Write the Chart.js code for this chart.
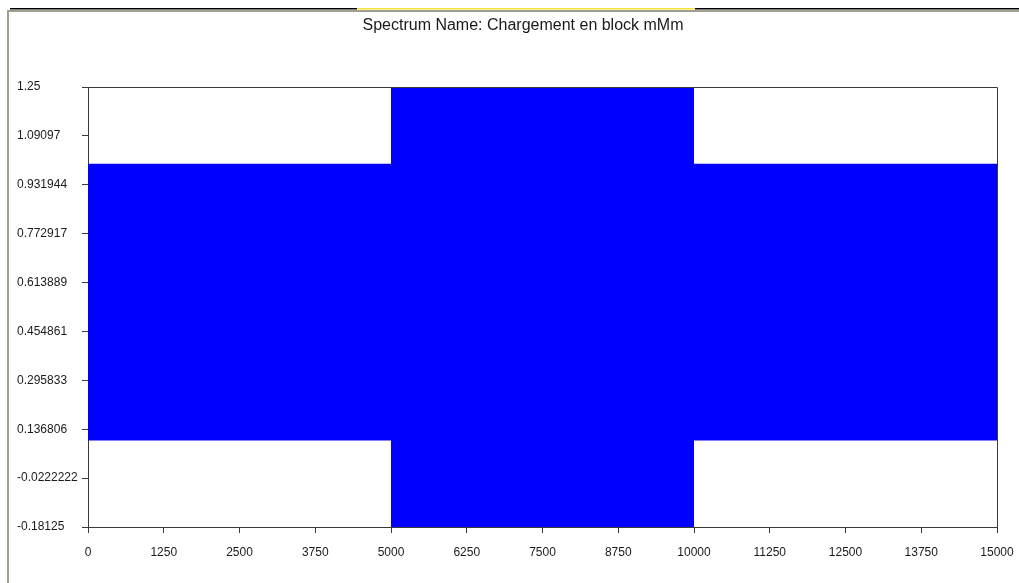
<!DOCTYPE html>
<html>
<head>
<meta charset="utf-8">
<script src="https://cdn.jsdelivr.net/npm/chart.js@4/dist/chart.umd.min.js"></script>
<style>
  html, body { margin: 0; padding: 0; background: #fff; }
  canvas { display: block; }
</style>
</head>
<body>
<canvas id="c" width="1019" height="583"></canvas>
<script>
// Block loading spectrum: each block cycles between a minimum and a maximum level
const blockStart = [0, 5000, 10000];
const blockEnd   = [5000, 10000, 15000];
const blockMax   = [1.0, 1.25, 1.0];
const blockMin   = [0.1, -0.18125, 0.1];

const xTicks = [0, 1250, 2500, 3750, 5000, 6250, 7500, 8750, 10000, 11250, 12500, 13750, 15000];
const yTicks = [-0.18125, -0.0222222, 0.136806, 0.295833, 0.454861, 0.613889, 0.772917, 0.931944, 1.09097, 1.25];

const titleText = 'Spectrum Name: Chargement en block mMm';

// Envelope points of the cycling band, block by block
const upper = [];
const lower = [];
blockStart.forEach((s, i) => {
  upper.push({ x: s, y: blockMax[i] }, { x: blockEnd[i], y: blockMax[i] });
  lower.push({ x: s, y: blockMin[i] }, { x: blockEnd[i], y: blockMin[i] });
});

const FONT = "'Liberation Sans', Arial, sans-serif";

// Window frame, title and plot border
const framePlugin = {
  id: 'frame',
  beforeDraw(chart) {
    const ctx = chart.ctx;
    ctx.save();
    ctx.fillStyle = '#ffffff';
    ctx.fillRect(0, 0, chart.width, chart.height);
    ctx.restore();
  },
  afterDraw(chart) {
    const ctx = chart.ctx;
    const a = chart.chartArea;
    ctx.save();
    // top edge
    ctx.fillStyle = '#000000';
    ctx.fillRect(10, 8, 347, 1.5);
    ctx.fillRect(695, 8, 324, 1.5);
    ctx.fillStyle = '#f2e23a';
    ctx.fillRect(357, 8, 338, 1.5);
    ctx.fillStyle = '#a09e8e';
    ctx.fillRect(8, 10, 1011, 2);
    ctx.fillRect(7, 10, 2, 573);
    // title
    ctx.fillStyle = '#1a1a1a';
    ctx.font = '16px ' + FONT;
    ctx.textAlign = 'center';
    ctx.textBaseline = 'middle';
    ctx.fillText(titleText, 523, 26);
    // plot box
    ctx.strokeStyle = '#3a3a3a';
    ctx.lineWidth = 1;
    ctx.beginPath();
    ctx.moveTo(Math.round(a.left) + 0.5, Math.round(a.top) + 0.5);
    ctx.lineTo(Math.round(a.right) + 0.5, Math.round(a.top) + 0.5);
    ctx.lineTo(Math.round(a.right) + 0.5, Math.round(a.bottom) + 0.5);
    ctx.stroke();
    ctx.restore();
  }
};

new Chart(document.getElementById('c'), {
  type: 'line',
  data: {
    datasets: [
      {
        data: upper,
        borderColor: '#0000ff',
        borderWidth: 0,
        backgroundColor: '#0000ff',
        pointRadius: 0,
        tension: 0,
        fill: '+1'
      },
      {
        data: lower,
        borderColor: '#0000ff',
        borderWidth: 0,
        backgroundColor: '#0000ff',
        pointRadius: 0,
        tension: 0,
        fill: false
      }
    ]
  },
  options: {
    responsive: false,
    animation: false,
    devicePixelRatio: 1,
    layout: { padding: { left: 17, top: 87, right: 22, bottom: 0 } },
    plugins: {
      legend: { display: false },
      tooltip: { enabled: false },
      title: { display: false }
    },
    scales: {
      x: {
        type: 'linear',
        min: 0,
        max: 15000,
        afterBuildTicks: s => { s.ticks = xTicks.map(v => ({ value: v })); },
        afterFit: s => { s.height = 56; s.paddingLeft = 0; s.paddingRight = 0; },
        grid: { drawOnChartArea: false, tickLength: 6, color: '#3a3a3a' },
        border: { display: true, color: '#3a3a3a' },
        ticks: {
          autoSkip: false,
          maxRotation: 0,
          padding: 12,
          color: '#1a1a1a',
          font: { family: FONT, size: 12 },
          callback: v => String(v)
        }
      },
      y: {
        type: 'linear',
        min: yTicks[0],
        max: yTicks[yTicks.length - 1],
        afterBuildTicks: s => { s.ticks = yTicks.map(v => ({ value: v })); },
        afterFit: s => { s.width = 71; },
        grid: { drawOnChartArea: false, tickLength: 6, color: '#3a3a3a' },
        border: { display: true, color: '#3a3a3a' },
        ticks: {
          autoSkip: false,
          crossAlign: 'far',
          color: '#1a1a1a',
          font: { family: FONT, size: 12 },
          callback: v => String(v)
        }
      }
    }
  },
  plugins: [framePlugin]
});
</script>
</body>
</html>
